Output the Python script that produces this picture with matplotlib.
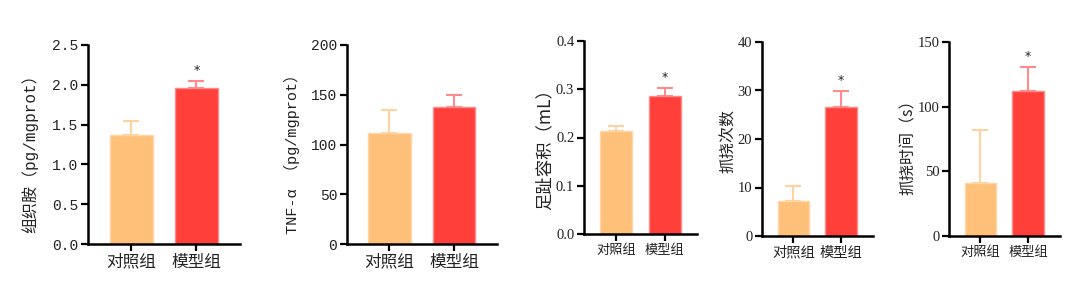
import matplotlib.pyplot as plt
import numpy as np

plt.rcParams['font.family'] = ['Noto Sans CJK SC', 'DejaVu Sans']

groups = ['对照组', '模型组']

histamine = [1.37, 1.96]
histamine_err = [0.17, 0.09]
tnf = [112, 138]
tnf_err = [23, 12]
paw = [0.213, 0.286]
paw_err = [0.011, 0.016]
scratch_n = [7.3, 26.7]
scratch_n_err = [3.0, 3.2]
scratch_t = [41, 112]
scratch_t_err = [41, 19]

stars = [[False, True], [False, False], [False, True], [False, True], [False, True]]

ylabels = ['组织胺（pg/mgprot）', 'TNF-α （pg/mgprot）', '足趾容积（mL）', '抓挠次数', '抓挠时间（s）']
yticks = [np.arange(0, 2.51, 0.5), np.arange(0, 201, 50), np.arange(0, 0.41, 0.1),
          np.arange(0, 41, 10), np.arange(0, 151, 50)]
ytick_fmt = ['{:.1f}', '{:.0f}', '{:.1f}', '{:.0f}', '{:.0f}']

W, H = 1080, 283
# pixel boxes: left, bottom, right, top
boxes = [(88, 244, 240, 45), (347, 244, 497, 45), (584, 234, 697, 41),
         (762, 236, 873, 42), (949, 236, 1060, 42)]
label_pos = [(30, 150), (292, 150), (545, 145), (728, 141), (908, 143)]
label_size = [11.5, 11, 12.5, 11.5, 11.5]
label_font = [['Liberation Mono', 'Noto Sans CJK SC'], ['Liberation Mono', 'Noto Sans CJK SC'],
              ['Noto Sans CJK SC'], ['Noto Sans CJK SC'], ['Noto Sans CJK SC']]
tick_font = ['Liberation Mono', 'Liberation Mono', 'Liberation Serif', 'Liberation Serif', 'Liberation Serif']
tick_size = [10.5, 10.5, 10.5, 10.5, 10.5]
xtick_size = [12, 12, 9.5, 10.3, 9.5]

bar_colors = ['#FFC07A', '#FF3F3A']
edge_colors = ['#FFD6A8', '#FF8A8A']
err_colors = ['#FFD3A0', '#FF8C8C']

data = [(histamine, histamine_err), (tnf, tnf_err), (paw, paw_err),
        (scratch_n, scratch_n_err), (scratch_t, scratch_t_err)]

fig = plt.figure(figsize=(W / 100, H / 100), dpi=100)
x = np.arange(2)
for i, ((vals, errs), box) in enumerate(zip(data, boxes)):
    l, b, r, t = box
    ax = fig.add_axes([l / W, 1 - b / H, (r - l) / W, (b - t) / H])
    for j in range(2):
        ax.bar(x[j], vals[j], width=0.66, color=bar_colors[j], edgecolor=edge_colors[j],
               linewidth=1.0, zorder=2)
        ax.errorbar(x[j], vals[j], yerr=[[0], [errs[j]]], fmt='none', ecolor=err_colors[j],
                    elinewidth=1.5, capsize=6, capthick=1.5, zorder=1)
        if stars[i][j]:
            top = vals[j] + errs[j]
            ax.text(x[j], top + (yticks[i][-1]) * 0.02, '*', ha='center', va='bottom',
                    fontsize=9, family='DejaVu Sans', color='#222222')
    ax.set_xlim(-0.66, 1.67)
    ax.set_ylim(0, yticks[i][-1])
    ax.set_xticks(x)
    ax.set_xticklabels(groups, fontsize=xtick_size[i], color='#222222')
    ax.set_yticks(yticks[i])
    ax.set_yticklabels([ytick_fmt[i].format(v) for v in yticks[i]], fontsize=tick_size[i],
                       family=tick_font[i], color='#222222')
    for s in ['top', 'right']:
        ax.spines[s].set_visible(False)
    for s in ['left', 'bottom']:
        ax.spines[s].set_linewidth(1.8)
    ax.tick_params(axis='both', direction='out', length=5, width=1.6, pad=2)
    lx, ly = label_pos[i]
    fig.text(lx / W, 1 - ly / H, ylabels[i], rotation=90, ha='center', va='center',
             fontsize=label_size[i], family=label_font[i], color='#222222')

fig.savefig('out.png', dpi=100)
